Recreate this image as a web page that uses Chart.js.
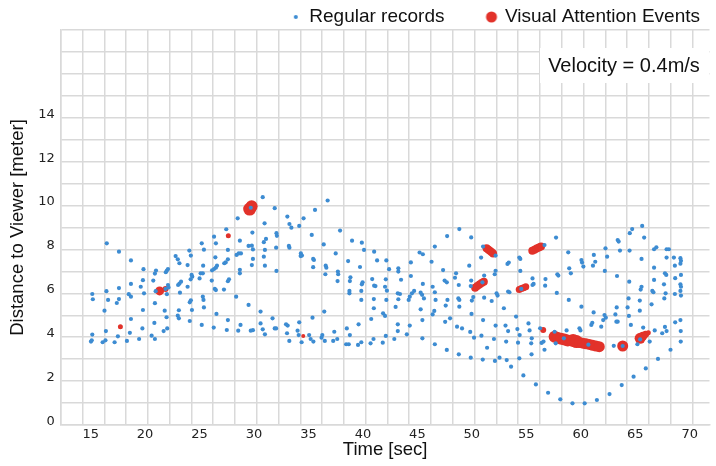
<!DOCTYPE html>
<html>
<head>
<meta charset="utf-8">
<script src="https://cdn.jsdelivr.net/npm/chart.js@4.4.1/dist/chart.umd.min.js"></script>
<style>
  html, body { margin: 0; padding: 0; background: #fff; }
  #wrap { width: 716px; height: 466px; }
</style>
</head>
<body>
<div id="wrap"><canvas id="grafica" width="716" height="466"></canvas></div>
<script>
// datos: [tiempo (s), distancia (m)]
const regular = [
  [16.48,8.28],[17.6,7.9],[18.7,7.5],[19.85,7.1],[15.15,5.97],[15.2,5.73],[16.45,6.1],[16.6,5.7],[17.6,6.24],[17.6,5.74],
  [17.4,5.56],[16.27,5.21],[15.15,4.12],[15.03,3.8],[15.1,3.86],[16.1,3.77],[16.36,3.86],[16.4,4.28],[17.2,3.77],[17.5,4.04],
  [18.33,3.83],[18.6,4.2],[18.7,4.83],[18.7,6.43],[18.5,5.96],[18.7,5.85],[19.45,3.92],[19.75,4.4],[19.8,5.24],[19.6,6.3],
  [19.8,6.6],[19.9,6.0],[20.6,4.07],[20.9,3.92],[20.85,4.65],[20.9,5.55],[20.75,6.58],[21.0,7.04],[20.9,6.9],[20.97,6.1],
  [21.88,6.2],[21.7,4.28],[22.03,4.4],[21.97,4.91],[21.8,5.21],[22.0,5.96],[22.1,6.38],[22.15,6.27],[21.9,6.96],[22.0,7.04],
  [22.1,7.11],[22.8,7.7],[23.0,7.55],[23.15,7.37],[23.03,6.38],[23.15,6.44],[23.2,6.03],[23.0,4.98],[23.1,4.86],[23.1,5.23],
  [23.3,6.53],[23.9,7.29],[24.06,7.95],[24.2,7.72],[23.9,6.3],[24.1,5.59],[24.2,5.68],[24.3,5.24],[24.1,4.74],[24.18,6.64],
  [24.27,6.84],[24.33,6.76],[25.0,6.68],[25.1,6.91],[25.3,6.91],[25.2,8.28],[25.4,7.99],[25.33,7.26],[25.3,5.85],[25.36,5.7],
  [25.4,5.36],[25.2,4.56],[26.33,8.58],[26.5,8.28],[26.45,7.64],[26.6,7.26],[26.15,7.05],[26.33,7.11],[26.5,7.17],[26.12,6.58],
  [26.4,6.2],[26.5,6.15],[26.55,5.06],[26.3,4.44],[27.27,7.37],[27.4,7.41],[27.6,7.55],[27.24,6.17],[27.45,8.92],[27.6,7.98],
  [27.6,6.55],[27.7,6.64],[27.5,4.33],[27.6,4.78],[28.36,5.85],[28.5,9.42],[28.7,8.4],[28.4,7.75],[28.6,7.82],[28.8,7.82],
  [28.7,7.07],[28.7,6.91],[28.55,4.3],[28.76,4.56],[29.5,5.47],[29.5,8.16],[29.8,8.17],[29.9,8.0],[29.9,7.57],[29.8,7.29],
  [29.85,8.77],[29.7,4.3],[29.9,4.32],[30.6,5.17],[30.6,4.63],[30.8,10.38],[30.97,9.19],[30.9,8.33],[31.1,8.48],[31.0,7.98],
  [30.9,7.67],[31.0,7.26],[30.8,4.36],[31.0,4.13],[31.7,4.86],[31.9,4.4],[32.03,4.4],[31.9,9.88],[32.06,8.74],[32.1,8.62],
  [32.03,8.08],[32.06,7.02],[29.7,9.9],
  [33.06,9.5],[33.25,9.16],[33.43,8.99],[34.15,9.07],[34.55,9.42],[35.6,9.8],[36.76,10.23],[33.2,8.16],[33.25,8.08],[34.3,7.82],
  [34.4,7.72],[34.28,7.7],[35.3,8.66],[35.43,7.57],[35.5,7.52],[35.43,7.19],[36.4,8.23],[36.58,7.26],[36.64,7.17],[36.55,6.87],
  [37.5,7.82],[37.7,6.99],[37.73,6.87],[37.67,6.56],[37.9,8.86],[39.0,8.4],[38.64,7.47],[38.85,6.73],[38.8,6.56],[38.76,6.11],
  [38.76,6.0],[39.9,8.31],[40.1,7.98],[39.73,7.2],[39.97,6.5],[39.9,6.41],[39.85,6.11],[39.85,5.7],[41.03,7.9],[41.3,7.5],
  [40.85,6.65],[41.03,6.35],[41.15,6.33],[41.0,5.74],[41.0,5.32],[40.76,4.83],[42.15,7.5],[42.4,7.1],[42.1,6.64],[42.03,6.3],
  [42.2,6.12],[42.15,5.7],[41.85,5.09],[42.03,4.97],[43.25,7.14],[43.25,6.99],[43.5,6.62],[43.2,6.0],[43.4,5.97],[43.25,5.73],
  [43.0,5.38],[43.2,4.59],[43.2,4.28],[44.4,7.41],[44.4,6.79],[44.2,5.7],[44.3,5.85],[44.5,6.0],[44.7,6.11],[44.3,4.53],
  [44.03,4.13],[45.2,7.86],[45.5,7.78],[45.5,6.43],[45.3,6.03],[45.43,5.93],[45.6,5.77],[45.3,5.27],[45.46,4.78],[45.46,3.95],
  [46.3,7.44],[46.4,6.3],[46.6,6.05],[46.67,5.7],[46.6,8.13],[46.55,5.2],[46.4,5.04],[46.6,3.68],[47.73,8.61],[47.36,7.06],
  [47.5,6.58],[47.7,6.5],[47.76,5.7],[47.6,5.44],[47.55,4.7],[48.0,4.86],[47.7,3.42],[48.85,8.93],[48.55,6.91],[48.45,6.71],
  [48.8,6.38],[48.76,5.77],[48.85,5.7],[48.85,5.39],[48.64,4.48],[49.1,4.4],[48.8,3.22],[49.94,8.55],[49.76,7.26],[49.94,6.58],
  [49.9,6.33],[50.13,5.83],[50.0,5.67],[49.97,5.06],[49.85,4.24],[50.2,3.98],[49.9,3.07],[50.85,7.63],[51.03,8.13],[51.13,6.81],
  [51.13,5.8],[51.03,4.78],[50.88,4.07],[51.0,2.98],[51.4,3.52],[50.97,6.5],
  [33.09,4.53],[32.94,4.59],[33.03,4.18],[33.24,3.83],[34.0,4.3],[34.15,4.68],[34.1,4.1],[34.37,3.77],[35.06,4.1],[35.2,3.92],
  [35.45,3.8],[35.37,4.89],[36.27,4.1],[36.2,3.98],[36.5,3.83],[36.45,5.17],[37.37,4.25],[37.27,3.83],[37.64,3.92],[38.52,4.4],
  [38.8,4.1],[38.46,3.68],[38.7,3.68],[39.6,4.59],[39.55,3.65],[39.85,3.77],[40.7,3.72],[40.97,3.92],[41.82,3.75],[42.1,4.06],
  [42.88,3.92],
  [52.18,7.72],[52.18,7.03],[52.1,6.87],[52.27,6.0],[52.36,5.9],[51.82,5.65],[52.94,5.32],[52.18,4.53],[52.03,3.92],[52.54,3.07],
  [52.12,2.92],[53.27,7.34],[53.39,7.4],[53.33,6.08],[53.45,6.05],[53.09,4.53],[53.33,4.28],[53.15,3.8],[53.2,2.96],[53.6,2.66],
  [54.06,4.94],[54.36,7.63],[54.45,7.57],[54.45,7.02],[54.54,6.2],[54.18,4.37],[54.39,4.1],[54.24,3.75],[54.36,3.04],[54.73,2.26],
  [55.2,4.63],[55.3,4.31],[55.5,3.95],[55.45,3.72],[55.48,3.22],[55.57,6.68],[55.67,6.43],[55.57,6.38],[55.88,1.85],[56.67,8.2],
  [56.76,6.65],[56.73,6.35],[56.27,4.41],[56.58,3.8],[56.67,3.43],[56.4,3.74],[57.0,1.47],[57.73,8.54],[57.85,6.87],[57.94,6.81],
  [57.8,6.02],[57.6,4.25],[57.7,3.72],[58.12,1.17],[58.85,7.87],[58.94,7.14],[59.09,6.91],[58.9,5.7],[58.7,4.31],[59.24,0.99],
  [60.06,7.52],[60.12,7.4],[60.24,7.22],[60.06,5.39],[59.88,4.41],[59.97,4.31],[60.36,0.99],[61.2,7.75],[61.33,7.44],[61.12,7.26],
  [61.18,5.13],[60.97,4.56],[61.06,4.66],[61.48,1.14],[62.27,8.05],[62.42,7.67],[62.21,7.02],[62.18,5.01],[62.3,4.89],[62.06,4.78],
  [61.88,4.48],[62.64,1.41],[63.39,8.43],[63.48,8.36],[63.6,7.95],[63.33,6.79],[63.3,5.36],[63.18,5.04],[63.39,4.71],[63.27,4.71],
  [63.03,3.61],[63.76,1.82],[64.5,8.74],[64.72,8.93],[64.48,7.95],[64.45,6.53],[64.39,5.77],[64.3,5.36],[64.42,4.97],[64.6,4.56],
  [64.85,2.2],[65.64,9.07],[65.82,8.54],[65.58,7.57],[65.58,6.3],[65.5,6.17],[65.42,5.67],[65.42,5.21],[65.73,4.44],[65.2,3.68],
  [65.97,2.58],[66.73,8.01],[66.94,8.1],[66.73,7.17],[66.73,6.61],[66.57,6.11],[66.67,6.05],[66.5,5.5],[66.33,3.8],[66.79,4.31],
  [67.09,3.01],[67.88,8.01],[68.09,8.01],[67.88,7.63],[67.73,6.91],[67.85,6.84],[67.64,6.41],[67.79,6.0],[67.67,5.77],[67.73,4.47],
  [67.48,4.18],[67.88,4.28],[68.24,3.43],[68.55,7.63],[68.64,7.26],[68.67,6.69],[68.64,5.97],[68.67,4.68],[69.15,7.6],[69.2,7.48],
  [69.15,7.35],[69.2,6.84],[69.15,6.41],[69.2,6.3],[69.15,6.11],[69.2,5.9],[69.15,4.78],[69.18,4.28],[69.18,3.8],
  [58.45,3.95],[60.7,3.66],[63.85,3.6],[65.45,3.9]
];

// eventos de atencion visual
const eventos = [
  [17.73,4.48],[21.33,6.11],[21.88,6.2],[27.64,8.62],[29.6,9.84],[29.78,9.97],[34.52,4.06],
  [50.3,6.26],[50.5,6.33],[50.7,6.4],[50.9,6.47],[51.1,6.53],
  [51.35,8.06],[51.5,8.0],[51.65,7.94],[51.8,7.88],[51.95,7.82],
  [54.35,6.17],[54.55,6.22],[54.75,6.26],[54.95,6.3],
  [55.55,7.94],[55.75,7.99],[55.95,8.04],[56.15,8.09],[56.35,8.13],
  [56.55,4.33],
  [57.6,4.02],[57.9,3.97],[58.2,3.93],[58.5,3.9],[58.8,3.85],
  [59.3,3.85],[59.6,3.8],[59.9,3.76],[60.2,3.73],[60.5,3.7],[60.8,3.67],[61.1,3.63],[61.4,3.6],[61.7,3.57],
  [63.85,3.6],
  [65.45,3.95],[65.7,4.05],[65.95,4.13],[66.2,4.2]
];
const radioEventos = [
  2.5,4.5,3,2.5,6.5,6,2,
  4,4,4,4,4,
  4,4,4,4,4,
  3.5,3.5,3.5,3.5,
  4,4,4,4,4,
  3,
  6,6,6,6,6,
  6.5,6.5,5.5,5.5,5.5,5.5,5.5,5.5,5.5,
  5.5,
  5.5,4.5,3.5,2.5
];

// ticks
const etiquetasX = [15,20,25,30,35,40,45,50,55,60,65,70];
const etiquetasY = [0,2,4,6,8,10,12,14];
const xMin = 12.25, xMax = 71.82;

const azul = '#3d8cd2';
const rojo = '#e2322a';
const gris = '#d9d9d9';

const lineasX = [];
for (let v = xMin; v <= xMax; v += 2) lineasX.push(Math.round(v*100)/100);

// circulo para la leyenda (imagen con el punto corrido a la derecha)
function puntoLeyenda(r, color, w) {
  const c = document.createElement('canvas');
  c.width = w + 20;
  c.height = 16;
  const cx = c.getContext('2d');
  cx.fillStyle = color;
  cx.beginPath();
  cx.arc(w + 6, 8, r, 0, Math.PI*2);
  cx.fill();
  return c;
}

const anchoLeyenda = 35;

// cuadro de texto de la velocidad
const cuadroVelocidad = {
  id: 'cuadroVelocidad',
  afterDatasetsDraw(chart) {
    const ctx = chart.ctx;
    ctx.save();
    ctx.fillStyle = '#fff';
    ctx.fillRect(540, 48, 169, 35);
    ctx.fillStyle = '#111';
    ctx.font = '20px "Liberation Sans", Arial, sans-serif';
    ctx.textAlign = 'center';
    ctx.textBaseline = 'middle';
    ctx.fillText('Velocity = 0.4m/s', 624, 66);
    ctx.restore();
  }
};

const grafica = document.getElementById('grafica');
new Chart(grafica, {
  type: 'scatter',
  data: {
    datasets: [{
      label: 'Regular records',
      data: regular.map(p => ({x: p[0], y: p[1]})),
      backgroundColor: azul,
      borderWidth: 0,
      pointRadius: 2.1,
      pointHoverRadius: 2.1
    }, {
      label: 'Visual Attention Events',
      data: eventos.map(p => ({x: p[0], y: p[1]})),
      backgroundColor: rojo,
      borderWidth: 0,
      pointRadius: radioEventos,
      pointHoverRadius: radioEventos
    }]
  },
  options: {
    responsive: false,
    animation: false,
    events: [],
    layout: { padding: { top: -8.5 } },
    plugins: {
      tooltip: { enabled: false },
      legend: {
        position: 'top',
        align: 'end',
        maxHeight: 38.5,
        labels: {
          usePointStyle: true,
          pointStyleWidth: anchoLeyenda,
          padding: 16,
          color: '#111',
          font: { family: '"Liberation Sans", Arial, sans-serif', size: 19 },
          generateLabels(chart) {
            const items = Chart.defaults.plugins.legend.labels.generateLabels(chart);
            items[0].pointStyle = puntoLeyenda(2, azul, anchoLeyenda);
            items[1].pointStyle = puntoLeyenda(5.5, rojo, anchoLeyenda);
            return items;
          }
        }
      }
    },
    scales: {
      x: {
        type: 'linear',
        min: xMin,
        max: xMax,
        afterBuildTicks(scale) {
          const vals = lineasX.concat(etiquetasX).sort((a, b) => a - b);
          scale.ticks = vals.map(v => ({ value: v }));
        },
        afterFit(scale) { scale.height = 41; },
        grid: {
          drawTicks: false,
          lineWidth: 1.5,
          color: c => (c.tick && etiquetasX.includes(c.tick.value)) ? 'rgba(0,0,0,0)' : gris
        },
        border: { color: gris, width: 1.5 },
        ticks: {
          autoSkip: false,
          maxRotation: 0,
          padding: 2,
          color: '#222',
          font: { family: '"DejaVu Sans", sans-serif', size: 13 },
          callback: v => etiquetasX.includes(v) ? String(v) : ''
        },
        title: {
          display: true,
          text: 'Time [sec]',
          color: '#111',
          padding: { top: 0, bottom: 5 },
          font: { family: '"Liberation Sans", Arial, sans-serif', size: 18.5 }
        }
      },
      y: {
        min: 0,
        max: 18,
        afterFit(scale) { scale.width = 60.7; },
        grid: { drawTicks: false, lineWidth: 1.5, color: gris },
        border: { color: gris, width: 1.5 },
        ticks: {
          stepSize: 1,
          autoSkip: false,
          padding: 6,
          labelOffset: -3.5,
          color: '#222',
          font: { family: '"DejaVu Sans", sans-serif', size: 13 },
          callback: v => etiquetasY.includes(v) ? String(v) : ''
        },
        title: {
          display: true,
          text: 'Distance to Viewer [meter]',
          color: '#111',
          padding: { top: 7, bottom: 0 },
          font: { family: '"Liberation Sans", Arial, sans-serif', size: 18.5 }
        }
      }
    }
  },
  plugins: [cuadroVelocidad]
});
</script>
</body>
</html>
